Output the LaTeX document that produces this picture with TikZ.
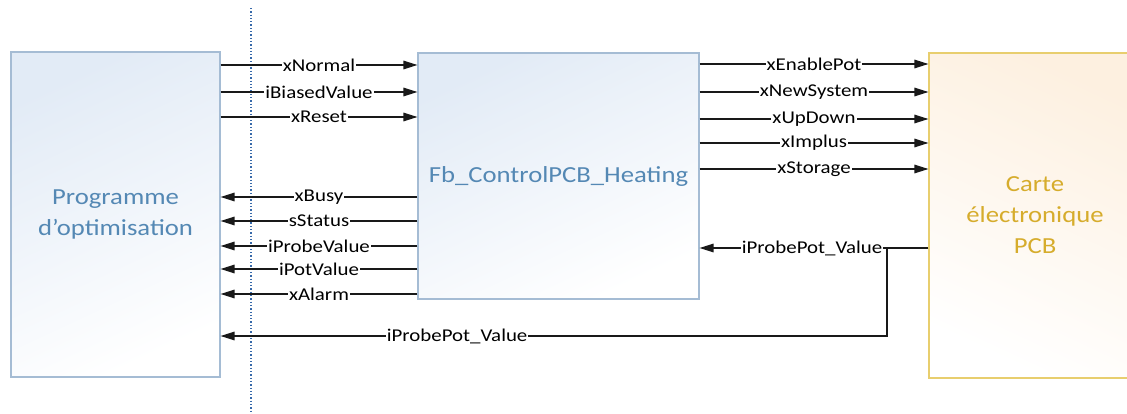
\documentclass[tikz,border=0pt]{standalone}
\usepackage{fontspec}
\setmainfont{Carlito}[FakeStretch=1.16]
\usetikzlibrary{arrows.meta,calc}
\definecolor{bluetxt}{RGB}{84,136,180}
\definecolor{blueline}{RGB}{165,188,212}
\definecolor{bluefill}{RGB}{226,235,246}
\definecolor{goldtxt}{RGB}{214,172,44}
\definecolor{goldline}{RGB}{232,206,110}
\definecolor{goldfill}{RGB}{253,240,224}
\definecolor{sepline}{RGB}{55,105,170}
\tikzset{
  bluebox/.style={draw=blueline, line width=1.1pt, shading=axis, top color=bluefill, bottom color=white, shading angle=25,
    text=bluetxt, font=\fontsize{23}{31}\selectfont, align=center, inner sep=0pt},
  goldbox/.style={draw=goldline, line width=1.1pt, shading=axis, top color=goldfill, bottom color=white, shading angle=-25,
    text=goldtxt, font=\fontsize{23}{31}\selectfont, align=center, inner sep=0pt},
  arr/.style={line width=1.3pt, draw=black!90, -{Triangle[length=14pt,width=8.5pt]}},
  wire/.style={line width=1.3pt, draw=black!90},
  lab/.style={fill=white, inner sep=1pt, font=\fontsize{18}{18}\selectfont, text=black}
}
\begin{document}
\begin{tikzpicture}[x=1pt,y=-1pt]
\useasboundingbox (0,0) rectangle (1127,414);
\node[bluebox, minimum width=209pt, minimum height=325pt] (prog) at (115.5,214.5) {Programme\\d’optimisation};
\node[bluebox, minimum width=281pt, minimum height=246pt] (fb) at (558.5,176) {Fb\_ControlPCB\_Heating};
\node[goldbox, minimum width=212pt, minimum height=325pt] (pcb) at (1035,215.5) {Carte\\électronique\\PCB};
\draw[sepline, line width=1.3pt, dash pattern=on 1.3pt off 2pt] (251,8) coordinate (sepA) -- (251,414) coordinate (sepB);
% inputs to fb
\draw[arr] (prog.east |- 0,65) -- node[lab] {xNormal} (fb.west |- 0,65);
\draw[arr] (prog.east |- 0,92) -- node[lab] {iBiasedValue} (fb.west |- 0,92);
\draw[arr] (prog.east |- 0,117) -- node[lab] {xReset} (fb.west |- 0,117);
% outputs to prog
\draw[arr] (fb.west |- 0,197) -- node[lab] {xBusy} (prog.east |- 0,197);
\draw[arr] (fb.west |- 0,221) -- node[lab] {sStatus} (prog.east |- 0,221);
\draw[arr] (fb.west |- 0,246) -- node[lab] {iProbeValue} (prog.east |- 0,246);
\draw[arr] (fb.west |- 0,269) -- node[lab] {iPotValue} (prog.east |- 0,269);
\draw[arr] (fb.west |- 0,294) -- node[lab] {xAlarm} (prog.east |- 0,294);
% fb to pcb
\draw[arr] (fb.east |- 0,64) -- node[lab] {xEnablePot} (pcb.west |- 0,64);
\draw[arr] (fb.east |- 0,92) -- node[lab] {xNewSystem} (pcb.west |- 0,92);
\draw[arr] (fb.east |- 0,119) -- node[lab] {xUpDown} (pcb.west |- 0,119);
\draw[arr] (fb.east |- 0,143) -- node[lab] {xImplus} (pcb.west |- 0,143);
\draw[arr] (fb.east |- 0,169) -- node[lab] {xStorage} (pcb.west |- 0,169);
% feedback
\coordinate (split) at (887,248);
\coordinate (corner) at (887,336);
\draw[wire] (pcb.west |- split) -- (split);
\draw[arr] (split) -- node[lab, pos=0.0, anchor=east, xshift=-3pt] {iProbePot\_Value} (fb.east |- split);
\draw[arr] (split) -- (corner) -- node[lab, pos=0.645] {iProbePot\_Value} (prog.east |- corner);
\end{tikzpicture}
\end{document}
